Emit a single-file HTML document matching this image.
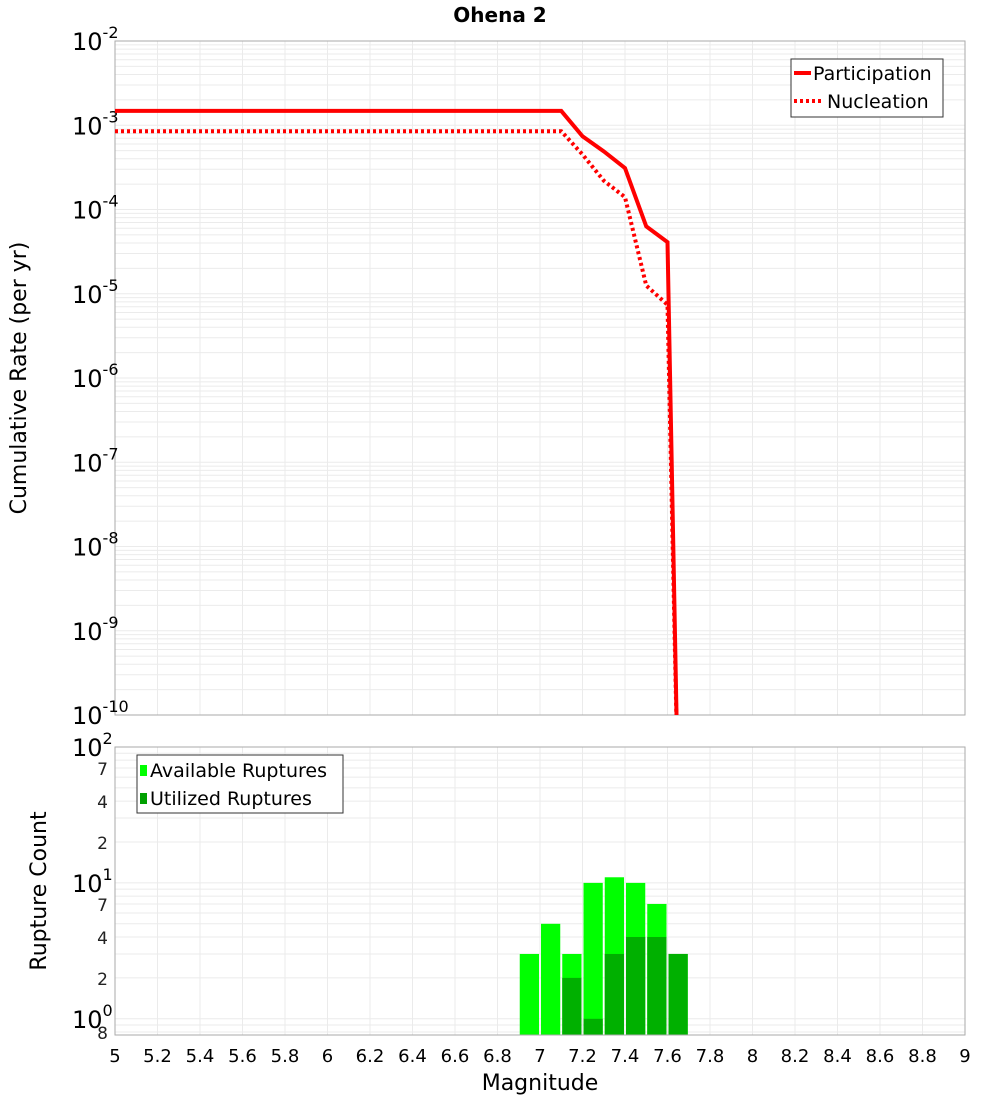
<!DOCTYPE html>
<html><head><meta charset="utf-8"><style>
body{margin:0;background:#fff;font-family:"Liberation Sans","DejaVu Sans",sans-serif}
svg text{font-family:"DejaVu Sans","Liberation Sans",sans-serif}
</style></head><body>
<svg id="c" width="1000" height="1100" xmlns="http://www.w3.org/2000/svg">
<text x="500" y="22" text-anchor="middle" font-size="20" font-weight="bold">Ohena 2</text>
<g id="topg"></g>
<g id="botg"></g>
<text x="540" y="1090" text-anchor="middle" font-size="22">Magnitude</text>
<text transform="translate(26,378) rotate(-90)" text-anchor="middle" font-size="22">Cumulative Rate (per yr)</text>
<text transform="translate(46,891) rotate(-90)" text-anchor="middle" font-size="22">Rupture Count</text>
</svg>
<script>
const partMags=[5,7.1,7.2,7.3,7.4,7.5,7.6,7.65];
const partRates=[1.48e-3,1.48e-3,7.4e-4,4.9e-4,3.1e-4,6.3e-5,4.1e-5,1e-11];
const nuclMags=[5,7.1,7.2,7.3,7.4,7.5,7.6,7.65];
const nuclRates=[8.5e-4,8.5e-4,4.5e-4,2.2e-4,1.4e-4,1.25e-5,7.4e-6,1e-11];
const binMags=[6.95,7.05,7.15,7.25,7.35,7.45,7.55,7.65];
const availCounts=[3,5,3,10,11,10,7,3];
const usedCounts=[0,0,2,1,3,4,4,3];
const xTicks=[5,5.2,5.4,5.6,5.8,6,6.2,6.4,6.6,6.8,7,7.2,7.4,7.6,7.8,8,8.2,8.4,8.6,8.8,9];
const countMinorTicks=[70,40,20,7,4,2,0.8];
const countMinorLabels=['7','4','2','7','4','2','8'];

const NS="http://www.w3.org/2000/svg";
const L=115,R=965,T1=41,B1=715,T2=747,B2=1035;
const X=m=>L+(m-5)/4*(R-L);
const Y1=v=>T1+(-2-Math.log10(v))*(B1-T1)/8;
const cMin=0.76;
const Y2=v=>T2+(2-Math.log10(v))*(B2-T2)/(2-Math.log10(cMin));
function mk(p,t,a){const e=document.createElementNS(NS,t);for(const k in a)e.setAttribute(k,a[k]);p.appendChild(e);return e;}
const topG=document.getElementById('topg'),botG=document.getElementById('botg');
const defs=mk(document.getElementById('c'),'defs',{});
const cp=mk(defs,'clipPath',{id:'cp1'});mk(cp,'rect',{x:L,y:T1,width:R-L,height:B1-T1});
function sup(p,x,y,base,e){const t=mk(p,'text',{x:x,y:y,'font-size':24});t.appendChild(document.createTextNode(base));
const s=mk(t,'tspan',{dy:-12,'font-size':16});s.textContent=e;return t;}

for(let d=-10;d<-2;d++)for(let k=1;k<10;k++){const y=Y1(k*Math.pow(10,d));const g=mk(topG,'line',{x1:L,x2:R,y1:y,y2:y,stroke:'#ebebeb','stroke-width':1});

}
xTicks.forEach(t=>{const x=X(t);const g=mk(topG,'line',{x1:x,x2:x,y1:T1,y2:B1,stroke:'#ebebeb'});


const g2=mk(botG,'line',{x1:x,x2:x,y1:T2,y2:B2,stroke:'#ebebeb'});


const tx=mk(botG,'text',{x:x,y:1062,'text-anchor':'middle','font-size':18});tx.textContent=String(t);

});
mk(topG,'rect',{x:L,y:T1,width:R-L,height:B1-T1,fill:'none',stroke:'#aaa'});
for(let d=-10;d<=-2;d++){const y=Y1(Math.pow(10,d));const t=sup(topG,72,y+9,'10',String(d));

}
function line(ms,vs,dash,name){const pts=ms.map((m,i)=>X(m)+','+Y1(vs[i])).join(' ');
const p=mk(topG,'polyline',{points:pts,fill:'none',stroke:'#f00','stroke-width':4,'clip-path':'url(#cp1)'});if(dash)p.setAttribute('stroke-dasharray','3,3');

}
line(partMags,partRates,false,'participation-line');line(nuclMags,nuclRates,true,'nucleation-line');
const lg=mk(topG,'g',{});


mk(lg,'rect',{x:791,y:59,width:152,height:58,fill:'#fff',stroke:'#333'});
mk(lg,'line',{x1:794,x2:811,y1:73,y2:73,stroke:'#f00','stroke-width':4});
mk(lg,'line',{x1:794,x2:822,y1:101,y2:101,stroke:'#f00','stroke-width':4,'stroke-dasharray':'3,3'});
let t=mk(lg,'text',{x:813,y:80,'font-size':19});t.textContent='Participation';
t=mk(lg,'text',{x:827,y:108,'font-size':19});t.textContent='Nucleation';

for(let d=-1;d<2;d++)for(let k=1;k<10;k++){const v=k*Math.pow(10,d);if(v<cMin)continue;const y=Y2(v);
const g=mk(botG,'line',{x1:L,x2:R,y1:y,y2:y,stroke:'#ebebeb'});

}
binMags.forEach((m,i)=>{const x0=X(m-0.05)+1,w=X(m+0.05)-X(m-0.05)-2;
const a=mk(botG,'rect',{x:x0,y:Y2(availCounts[i]),width:w,height:B2-Y2(availCounts[i]),fill:'#00ff00'});


if(usedCounts[i]>0){const u=mk(botG,'rect',{x:x0,y:Y2(usedCounts[i]),width:w,height:B2-Y2(usedCounts[i]),fill:'#00b000'});

}});
mk(botG,'rect',{x:L,y:T2,width:R-L,height:B2-T2,fill:'none',stroke:'#aaa'});
[[100,'2'],[10,'1'],[1,'0']].forEach(([v,e])=>{const y=Y2(v);const tt=sup(botG,72,y+9,'10',e);

});
countMinorTicks.forEach((v,i)=>{const tt=mk(botG,'text',{x:108,y:Y2(v)+7,'font-size':17,'text-anchor':'end',fill:'#222'});
tt.textContent=countMinorLabels[i];

});
const lg2=mk(botG,'g',{});


mk(lg2,'rect',{x:137,y:755,width:206,height:58,fill:'#fff',stroke:'#333'});
mk(lg2,'rect',{x:140,y:765,width:7,height:11,fill:'#00ff00'});
mk(lg2,'rect',{x:140,y:793,width:7,height:11,fill:'#00a000'});
t=mk(lg2,'text',{x:150,y:777,'font-size':19});t.textContent='Available Ruptures';
t=mk(lg2,'text',{x:150,y:805,'font-size':19});t.textContent='Utilized Ruptures';
</script>
</body></html>
